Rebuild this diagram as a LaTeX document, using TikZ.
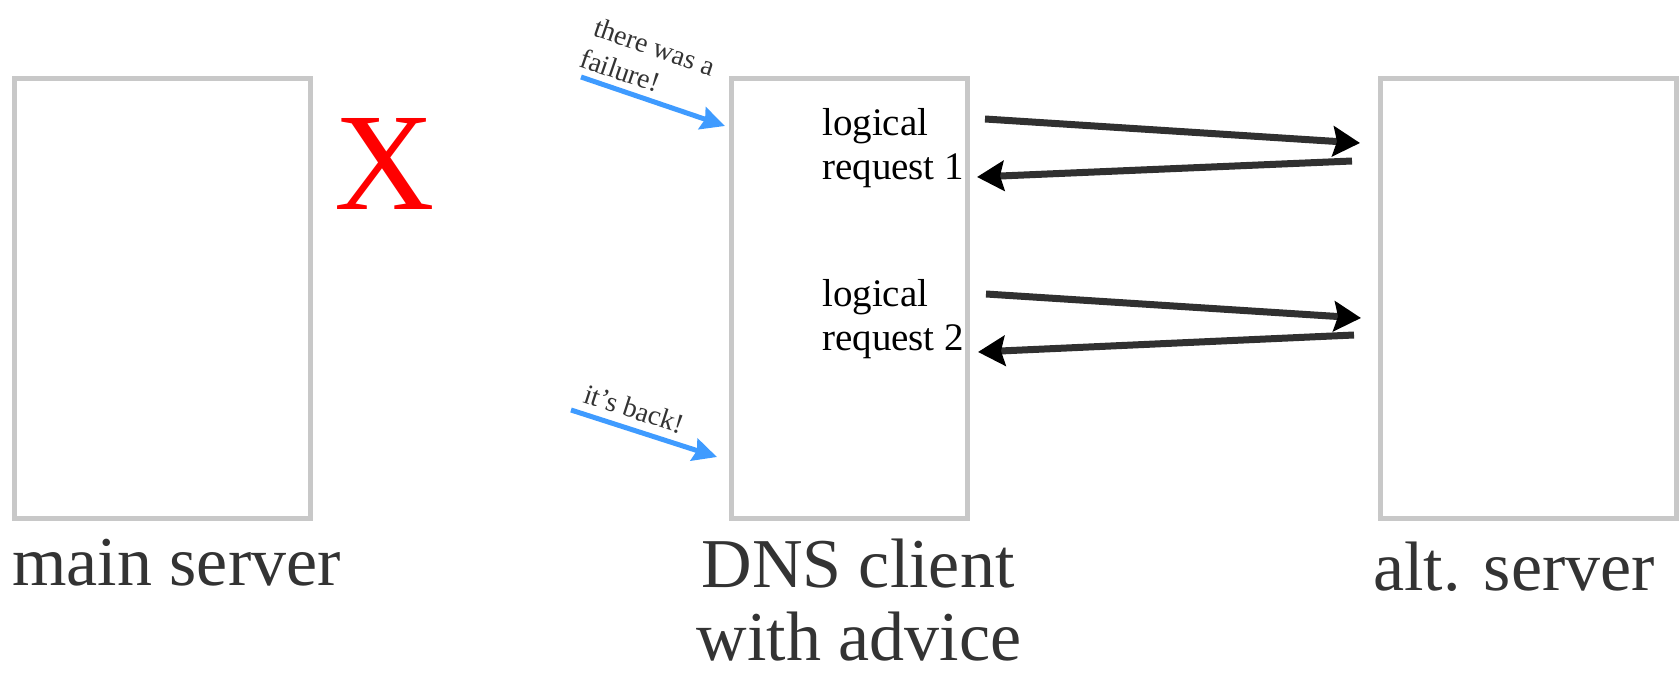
\documentclass[tikz,border=0pt]{standalone}
\usepackage{fontspec}
\setmainfont{Liberation Serif}
\usetikzlibrary{arrows.meta}
\definecolor{boxgray}{HTML}{C8C8C8}
\definecolor{txtgray}{HTML}{333333}
\definecolor{arrowblue}{HTML}{3F9BFF}
\definecolor{arrowdark}{HTML}{303030}
\begin{document}
\begin{tikzpicture}[x=1pt,y=-1pt,
  server/.style={draw=boxgray,line width=5pt,minimum width=296pt,minimum height=439pt,inner sep=0pt,shape=rectangle},
  dnsbox/.style={server,minimum width=236pt},
  biglabel/.style={text=txtgray,font=\fontsize{70}{73}\selectfont,inner sep=0pt},
  reqtext/.style={text=black,font=\fontsize{39}{44}\selectfont,inner sep=0pt,anchor=base west},
  note/.style={text=txtgray,font=\fontsize{28}{24}\selectfont,inner sep=0pt,anchor=base west},
  msg/.style={draw=arrowdark,line width=7pt,-{Stealth[length=27pt,width=30pt,inset=4pt,color=black]}},
  hint/.style={draw=arrowblue,line width=5pt,-{Stealth[length=24pt,width=23pt,inset=3pt]}}
]
\useasboundingbox (0,0) rectangle (1679,687);

% boxes
\node[server] (main) at (162,298.5) {};
\node[dnsbox] (dns) at (849.5,298.5) {};
\node[server] (alt) at (1528,298.5) {};

% labels under boxes
\node[biglabel,anchor=base west] (mainlbl) at (12,585) {main server};
\node[biglabel,anchor=base] (dnslbla) at (858,587) {DNS client};
\node[biglabel,anchor=base] (dnslblb) at (859,660) {with advice};
\node[biglabel,anchor=base] (altlbl) at (1514,590) {alt. server};

% failure mark
\node[text=red,font=\fontsize{139}{139}\selectfont,inner sep=0pt] (fail) at (385,164) {X};

% logical requests
\node[reqtext] (lr1a) at (822,136) {logical};
\node[reqtext] (lr1b) at (822,180) {request 1};
\node[reqtext] (lr2a) at (822,306) {logical};
\node[reqtext] (lr2b) at (822,350) {request 2};

% request / response arrows
\coordinate (a1s) at (985,119);
\coordinate (a1e) at (1360,143);
\coordinate (b1s) at (1352,161);
\coordinate (b1e) at (977,177);
\coordinate (a2s) at (986,294);
\coordinate (a2e) at (1361,318);
\coordinate (b2s) at (1354,335);
\coordinate (b2e) at (978,352);
\draw[msg] (a1s) -- (a1e);
\draw[msg] (b1s) -- (b1e);
\draw[msg] (a2s) -- (a2e);
\draw[msg] (b2s) -- (b2e);

% notes
\node[note,rotate=-19] (n1a) at (592,35) {there was a};
\node[note,rotate=-19] (n1b) at (578,66) {failure!};
\node[note,rotate=-18] (n2) at (582,402) {it's back!};
\coordinate (f1s) at (581,77);
\coordinate (f1e) at (725,126);
\coordinate (f2s) at (571,410);
\coordinate (f2e) at (717,457);
\draw[hint] (f1s) -- (f1e);
\draw[hint] (f2s) -- (f2e);
\end{tikzpicture}
\end{document}
